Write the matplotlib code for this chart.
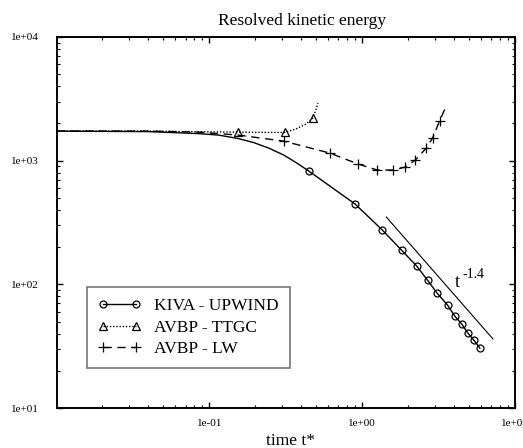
import numpy as np
import matplotlib
matplotlib.use('Agg')
import matplotlib.pyplot as plt
from matplotlib.ticker import LogLocator, FuncFormatter

# KIVA - UPWIND (solid, circles)
kiva_t = [0.0101, 0.0397, 0.0847, 0.1146, 0.155, 0.195, 0.245, 0.307, 0.374,
          0.448, 0.90, 1.355, 1.81, 2.27, 2.68, 3.09, 3.62, 4.03, 4.48, 4.91,
          5.37, 5.89]
kiva_e = [1734, 1718, 1656, 1611, 1510, 1401, 1264, 1110, 957,
          824, 446, 275, 189, 141, 108, 85, 68, 55.5, 47.8, 40.4,
          35.5, 30.5]
kiva_marks = list(range(9, 22))

# AVBP - TTGC (dotted, triangles)
ttgc_t = [0.0101, 0.0397, 0.155, 0.311, 0.368, 0.428, 0.476, 0.498, 0.514]
ttgc_e = [1734, 1734, 1700, 1690, 1800, 1977, 2208, 2566, 2924]
ttgc_marks = [2, 3, 6]

# AVBP - LW (dashed, plus)
lw_t = [0.0101, 0.0397, 0.0847, 0.155, 0.307, 0.616, 0.94, 1.255, 1.60,
        1.92, 2.23, 2.63, 2.89, 3.21, 3.52]
lw_e = [1734, 1734, 1702, 1610, 1439, 1151, 940, 840, 840,
        888, 1013, 1265, 1524, 2090, 2710]
lw_marks = list(range(4, 14))

# reference slope t^-1.4
ref_t = [1.44, 7.17]
ref_e = [350, 36.2]

plt.rcParams['font.family'] = 'Liberation Serif'

fig = plt.figure(figsize=(5.23, 4.48), dpi=100)
ax = fig.add_axes([57/523, 1 - 408/448, 458/523, 371/448])

ax.plot(kiva_t, kiva_e, color='black', lw=1.0, ls='-', marker='o', ms=5,
        mfc='none', mec='black', mew=0.9, markevery=kiva_marks, label='KIVA - UPWIND')
ax.plot(ttgc_t, ttgc_e, color='black', lw=1.0, ls=(0, (1, 1.3)), marker='^', ms=6,
        mfc='none', mec='black', mew=0.9, markevery=ttgc_marks, label='AVBP - TTGC')
ax.plot(lw_t, lw_e, color='black', lw=1.0, ls=(0, (6, 4)), marker='+', ms=7,
        mec='black', mew=0.9, markevery=lw_marks, label='AVBP - LW')
ax.plot(ref_t, ref_e, color='black', lw=0.8)

# t^-1.4 label, hyphen kept as in the original
ax.text(4.03, 95, 't', fontsize=13, ha='left', va='baseline')
ax.annotate('-1.4', xy=(4.03, 95), xytext=(5.5, 6.5), textcoords='offset points',
            fontsize=10, ha='left', va='baseline')

ax.set_xscale('log')
ax.set_yscale('log')
ax.set_xlim(0.0101, 10)
ax.set_ylim(10, 10000)

fmt = FuncFormatter(lambda v, p: '%.0e' % v)
ax.xaxis.set_major_formatter(fmt)
ax.yaxis.set_major_formatter(fmt)
ax.xaxis.set_minor_locator(LogLocator(base=10, subs=np.arange(2, 10)))
ax.yaxis.set_minor_locator(LogLocator(base=10, subs=np.arange(2, 10)))
ax.xaxis.set_minor_formatter(plt.NullFormatter())
ax.yaxis.set_minor_formatter(plt.NullFormatter())
ax.tick_params(which='both', direction='in', top=True, right=True, labelsize=8)
ax.tick_params(axis='x', which='major', length=4.5, width=1.0, pad=8)
ax.tick_params(axis='y', which='major', length=4.5, width=1.0, pad=13)
ax.tick_params(which='minor', length=2.2, width=0.8)
for s in ax.spines.values():
    s.set_linewidth(1.4)

fig.text(302/523, 1 - 21/448, 'Resolved kinetic energy', fontsize=12.5,
         ha='center', va='center')
fig.text(290/523, 1 - 441/448, 'time t*', fontsize=12.5, ha='center', va='center')

leg = ax.legend(loc='lower left', bbox_to_anchor=(0.0655, 0.108), numpoints=2,
                fontsize=12.5, frameon=True, fancybox=False, handlelength=2.5,
                handletextpad=0.75, labelspacing=0.31, borderpad=0.62,
                borderaxespad=0)
leg.get_frame().set_edgecolor('#555555')
leg.get_frame().set_linewidth(1.2)

plt.savefig('out.png', dpi=100)
plt.close()
